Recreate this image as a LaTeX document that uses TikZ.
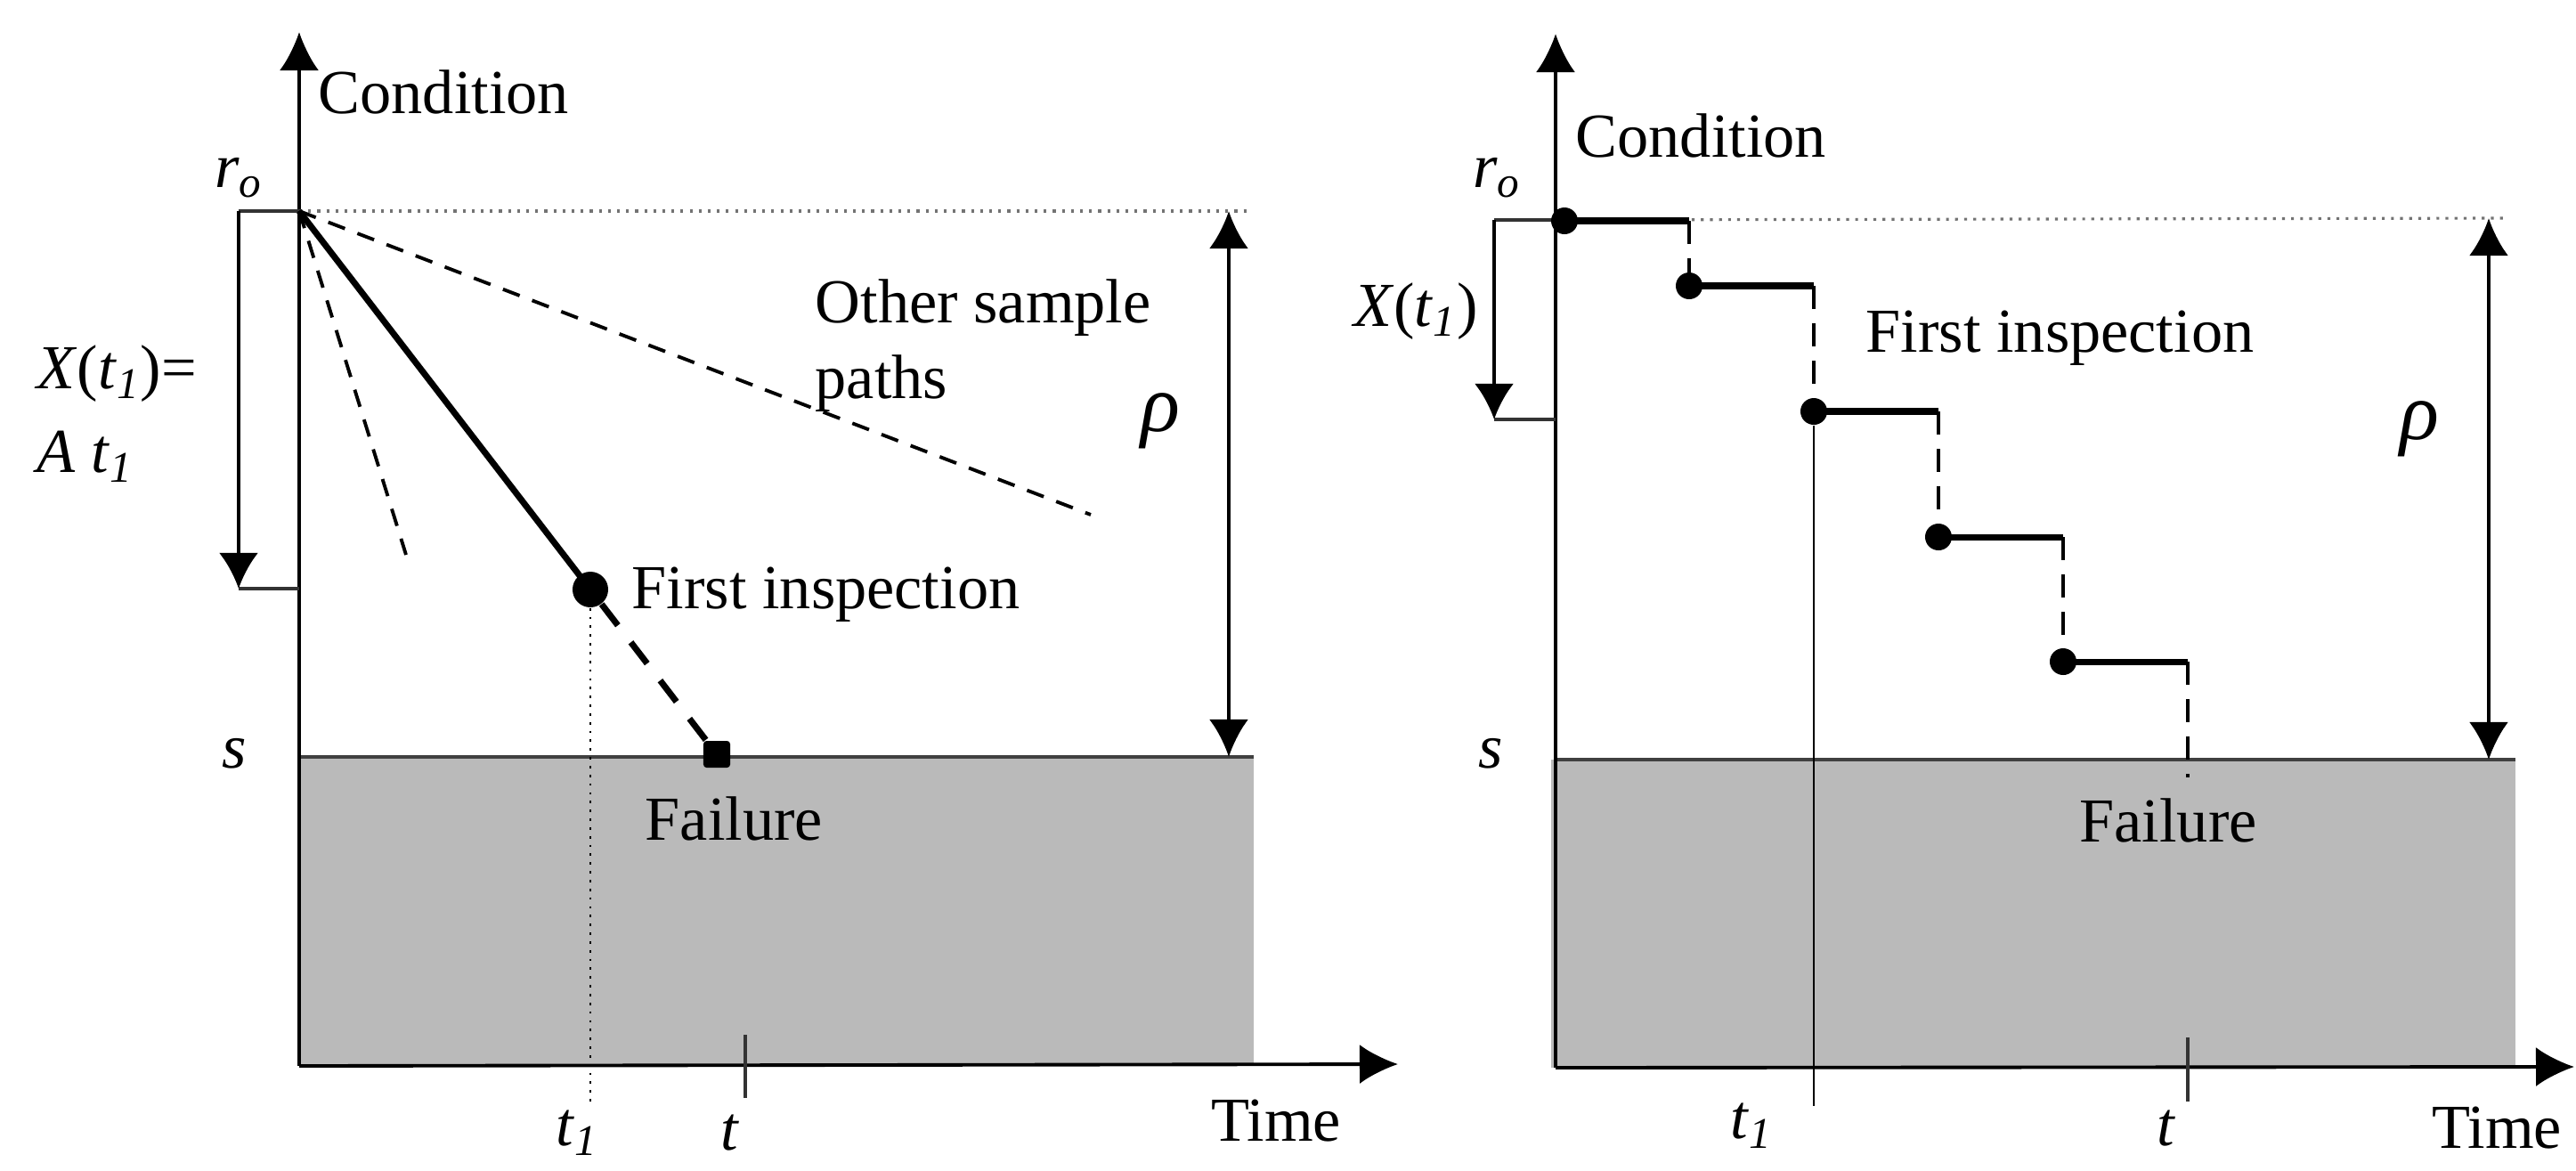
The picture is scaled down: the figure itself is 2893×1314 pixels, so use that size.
\documentclass[tikz,border=0pt]{standalone}
\usepackage{fontspec}
\setmainfont{Liberation Serif}
\usetikzlibrary{arrows.meta}

\begin{document}
\begin{tikzpicture}[
  x=0.01cm, y=-0.01cm, font=\fontsize{20}{24}\selectfont,
  ax/.style={line width=1.1pt,-{Latex[length=4.3mm,width=4.4mm]}},
  dim/.style={line width=1.3pt,{Latex[length=4.2mm,width=4.4mm]}-{Latex[length=4.2mm,width=4.4mm]}},
  darr/.style={line width=1.3pt,-{Latex[length=4mm,width=4.4mm]}},
  lvl/.style={black!55,dotted,line width=0.9pt},
  tick/.style={black!80,line width=0.9pt},
  other/.style={dash pattern=on 2mm off 1.5mm,line width=1.1pt},
  sp/.style={line width=2pt},
  jump/.style={dash pattern=on 3mm off 2.4mm,line width=2pt},
  vjump/.style={dash pattern=on 2.6mm off 1.6mm,line width=1.4pt},
  dot/.style={circle,fill,inner sep=0,minimum size=#1},
  fail/.style={fill=black!27},
  lbl/.style={inner sep=0}]
\useasboundingbox (0,0) rectangle (2893,1314);

% left: linear degradation
\fill[fail] (336,850) rectangle (1408,1197);
\draw[black!75,line width=1pt] (336,850) -- (1408,850);
\coordinate (lo) at (336,1197);
\coordinate (ltop) at (336,36);
\coordinate (lend) at (1570,1195);
\draw[ax] (lo) -- (ltop);
\draw[ax] (lo) -- (lend);
\coordinate (lr) at (336,237);
\coordinate (lrr) at (1400,237);
\draw[lvl] (lr) -- (lrr);
\coordinate (lxa) at (268,237);
\coordinate (lxb) at (268,661);
\draw[tick] (lxa) -- (lr);
\draw[tick] (lxb) -- (336,661);
\draw[darr] (lxa) -- (lxb);
\coordinate (lra) at (1380,237);
\coordinate (lrb) at (1380,850);
\draw[dim] (lra) -- (lrb);
\coordinate (o1) at (456,623);
\coordinate (o2) at (1225,578);
\draw[other] (lr) -- (o1);
\draw[other] (lr) -- (o2);
\node[dot=0.4cm] (insp) at (663,662) {};
\node[dot=0.3cm,rectangle,rounded corners=1pt] (lfail) at (805,847) {};
\draw[sp] (lr) -- (insp.center);
\draw[jump] (insp) -- (lfail);
\coordinate (lt1) at (663,1237);
\draw[black,dotted,line width=0.8pt] (insp) -- (lt1);
\coordinate (lta) at (837,1162);
\coordinate (ltb) at (837,1233);
\draw[tick] (lta) -- (ltb);

\node[lbl,anchor=west] (lcond) at (357,103) {Condition};
\node[lbl] (lr0) at (268,200) {\textit{r}\textsubscript{\textit{o}}};
\node[lbl,anchor=west] (lx) at (41,420) {\textit{X}(\textit{t}\textsubscript{\textit{1}})=};
\node[lbl,anchor=west] (lat) at (41,513) {\textit{A t}\textsubscript{\textit{1}}};
\node[lbl,anchor=west] (loth) at (915,346) {Other sample};
\node[lbl,anchor=west] (lpth) at (915,431) {paths};
\node[lbl] (lrho) at (1303,473) {\fontsize{26}{30}\selectfont\textit{ρ}};
\node[lbl,anchor=west] (lfi) at (709,668) {First inspection};
\node[lbl] (ls) at (263,846) {\textit{s}};
\node[lbl,anchor=west] (lfl) at (724,919) {Failure};
\node[lbl] (lt1l) at (648,1272) {\textit{t}\textsubscript{\textit{1}}};
\node[lbl] (ltl) at (820,1272) {\textit{t}};
\node[lbl] (ltime) at (1433,1259) {Time};

% right: periodic inspections
\fill[fail] (1742,853) rectangle (2825,1199);
\draw[black!75,line width=1pt] (1747,853) -- (2825,853);
\coordinate (ro) at (1747,1199);
\coordinate (rtop) at (1747,38);
\coordinate (rend) at (2891,1198);
\draw[ax] (ro) -- (rtop);
\draw[ax] (ro) -- (rend);
\coordinate (rr) at (1747,247);
\coordinate (rrr) at (2812,245);
\draw[lvl] (rr) -- (rrr);
\coordinate (rxa) at (1678,247);
\coordinate (rxb) at (1678,471);
\draw[tick] (rxa) -- (rr);
\draw[tick] (rxb) -- (1747,471);
\draw[darr] (rxa) -- (rxb);
\coordinate (rra) at (2795,245);
\coordinate (rrb) at (2795,853);
\draw[dim] (rra) -- (rrb);

\node[dot=0.3cm] (s1) at (1757,248) {};
\node[dot=0.3cm] (s2) at (1897,321) {};
\node[dot=0.3cm] (s3) at (2037,462) {};
\node[dot=0.3cm] (s4) at (2177,603) {};
\node[dot=0.3cm] (s5) at (2317,743) {};
\coordinate (c1) at (1897,248);
\coordinate (c2) at (2037,321);
\coordinate (c3) at (2177,462);
\coordinate (c4) at (2317,603);
\coordinate (c5) at (2457,743);
\coordinate (c6) at (2457,873);
\draw[sp] (s1.center) -- (c1); \draw[vjump] (c1) -- (s2.center);
\draw[sp] (s2.center) -- (c2); \draw[vjump] (c2) -- (s3.center);
\draw[sp] (s3.center) -- (c3); \draw[vjump] (c3) -- (s4.center);
\draw[sp] (s4.center) -- (c4); \draw[vjump] (c4) -- (s5.center);
\draw[sp] (s5.center) -- (c5); \draw[vjump] (c5) -- (c6);
\coordinate (rt1) at (2037,1242);
\draw[line width=0.8pt] (s3) -- (rt1);
\coordinate (rta) at (2457,1165);
\coordinate (rtb) at (2457,1237);
\draw[tick] (rta) -- (rtb);

\node[lbl,anchor=west] (rcond) at (1769,152) {Condition};
\node[lbl] (rr0) at (1681,200) {\textit{r}\textsubscript{\textit{o}}};
\node[lbl] (rx) at (1590,350) {\textit{X}(\textit{t}\textsubscript{\textit{1}})};
\node[lbl,anchor=west] (rfi) at (2095,380) {First inspection};
\node[lbl] (rrho) at (2717,482) {\fontsize{26}{30}\selectfont\textit{ρ}};
\node[lbl] (rs) at (1674,846) {\textit{s}};
\node[lbl] (rfl) at (2435,921) {Failure};
\node[lbl] (rt1l) at (1967,1264) {\textit{t}\textsubscript{\textit{1}}};
\node[lbl] (rtl) at (2433,1267) {\textit{t}};
\node[lbl] (rtime) at (2804,1267) {Time};
\end{tikzpicture}
\end{document}
